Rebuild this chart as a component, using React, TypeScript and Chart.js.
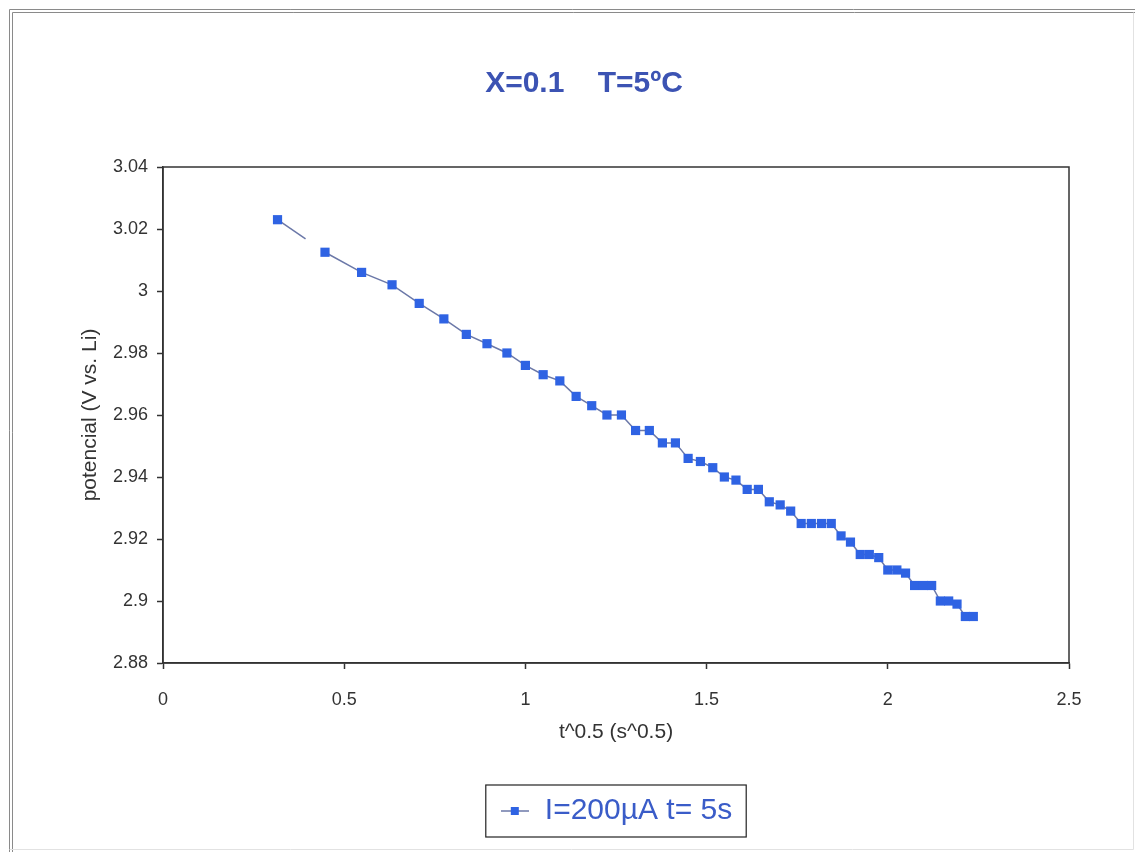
import React, { useEffect, useRef } from "react";
import { Chart, registerables } from "chart.js";

Chart.register(...registerables);

// t^0.5 values (s^0.5)
const timeRoot = [
  0.316, 0.447, 0.548, 0.632, 0.707, 0.775, 0.837, 0.894, 0.949, 1.0,
  1.049, 1.095, 1.14, 1.183, 1.225, 1.265, 1.304, 1.342, 1.378, 1.414,
  1.449, 1.483, 1.517, 1.549, 1.581, 1.612, 1.643, 1.673, 1.703, 1.732,
  1.761, 1.789, 1.817, 1.844, 1.871, 1.897, 1.924, 1.949, 1.975, 2.0,
  2.025, 2.049, 2.074, 2.098, 2.121, 2.145, 2.168, 2.191, 2.214, 2.236,
];

// potential (V vs. Li)
const potential = [
  3.023, 3.0125, 3.006, 3.002, 2.996, 2.991, 2.986, 2.983, 2.98, 2.976,
  2.973, 2.971, 2.966, 2.963, 2.96, 2.96, 2.955, 2.955, 2.951, 2.951,
  2.946, 2.945, 2.943, 2.94, 2.939, 2.936, 2.936, 2.932, 2.931, 2.929,
  2.925, 2.925, 2.925, 2.925, 2.921, 2.919, 2.915, 2.915, 2.914, 2.91,
  2.91, 2.909, 2.905, 2.905, 2.905, 2.9, 2.9, 2.899, 2.895, 2.895,
];

const xTickLabels = ["0", "0.5", "1", "1.5", "2", "2.5"];
const yTickLabels = ["2.88", "2.9", "2.92", "2.94", "2.96", "2.98", "3", "3.02", "3.04"];

const chartTitle = "X=0.1    T=5ºC";
const seriesLabel = "I=200µA t= 5s";
const xAxisTitle = "t^0.5 (s^0.5)";
const yAxisTitle = "potencial (V vs. Li)";

const LINE_COLOR = "#6b78a8";
const MARKER_COLOR = "#2f63e3";
const TEXT_COLOR = "#333333";
const TITLE_COLOR = "#3c53b3";
const LEGEND_TEXT = "#3a5cc8";
const FONT = "Arial, 'Liberation Sans', sans-serif";

export default function App() {
  const canvasRef = useRef<HTMLCanvasElement | null>(null);

  useEffect(() => {
    const canvas = canvasRef.current;
    if (!canvas) return;

    const icon = document.createElement("canvas");
    icon.width = 28;
    icon.height = 12;
    const ic = icon.getContext("2d");
    if (ic) {
      ic.strokeStyle = LINE_COLOR;
      ic.lineWidth = 1.5;
      ic.beginPath();
      ic.moveTo(0, 6);
      ic.lineTo(28, 6);
      ic.stroke();
      ic.fillStyle = MARKER_COLOR;
      ic.fillRect(10, 2, 8, 8);
    }

    const decor = {
      id: "decor",
      beforeDraw(chart: any) {
        const ctx = chart.ctx;
        ctx.save();
        ctx.fillStyle = "#ffffff";
        ctx.fillRect(0, 0, chart.width, chart.height);
        // outer frame
        ctx.strokeStyle = "#8a8a8a";
        ctx.lineWidth = 1;
        ctx.beginPath();
        ctx.moveTo(9.5, 852);
        ctx.lineTo(9.5, 9.5);
        ctx.lineTo(1135, 9.5);
        ctx.moveTo(12.5, 852);
        ctx.lineTo(12.5, 12.5);
        ctx.lineTo(1135, 12.5);
        ctx.stroke();
        ctx.strokeStyle = "#e2e2e2";
        ctx.beginPath();
        ctx.moveTo(9.5, 849.5);
        ctx.lineTo(1133.5, 849.5);
        ctx.lineTo(1133.5, 12.5);
        ctx.stroke();
        ctx.restore();
      },
      afterDraw(chart: any) {
        const ctx = chart.ctx;
        const a = chart.chartArea;
        ctx.save();
        // plot frame
        ctx.strokeStyle = "#333333";
        ctx.lineWidth = 1.5;
        ctx.strokeRect(a.left, a.top, a.right - a.left, a.bottom - a.top);
        // title
        ctx.fillStyle = TITLE_COLOR;
        ctx.font = "bold 30px " + FONT;
        ctx.textAlign = "center";
        ctx.textBaseline = "middle";
        ctx.fillText(chartTitle, 584, 84);
        // legend border
        const hb = chart.legend && chart.legend.legendHitBoxes && chart.legend.legendHitBoxes[0];
        if (hb) {
          const cy = hb.top + hb.height / 2;
          ctx.strokeStyle = "#222222";
          ctx.lineWidth = 1.2;
          ctx.strokeRect(hb.left - 14, cy - 26, hb.width + 28, 52);
        }
        ctx.restore();
      },
    };

    const chart = new Chart(canvas, {
      type: "line",
      data: {
        datasets: [
          {
            label: seriesLabel,
            data: timeRoot.map((x, i) => ({ x, y: potential[i] })),
            borderColor: LINE_COLOR,
            borderWidth: 1.5,
            backgroundColor: MARKER_COLOR,
            pointStyle: "rect",
            pointRadius: 6.5,
            pointBackgroundColor: MARKER_COLOR,
            pointBorderColor: MARKER_COLOR,
            pointBorderWidth: 0,
            tension: 0,
            segment: {
              borderDash: (ctx: any) => (ctx.p0DataIndex === 0 ? [34, 200] : undefined),
            },
          },
        ],
      },
      options: {
        animation: false,
        responsive: false,
        events: [],
        layout: { padding: { left: 74, right: 66, top: 167, bottom: 18 } },
        scales: {
          x: {
            type: "linear",
            min: 0,
            max: 2.5,
            afterFit: (s: any) => {
              s.height = 84;
            },
            ticks: {
              stepSize: 0.5,
              color: TEXT_COLOR,
              font: { size: 18, family: FONT },
              padding: 20,
              callback: (_v: any, i: number) => xTickLabels[i],
            },
            grid: {
              display: true,
              drawOnChartArea: false,
              drawTicks: true,
              tickLength: 6,
              tickColor: "#333333",
              tickWidth: 1.5,
            },
            border: { display: true, color: "#333333", width: 1.5 },
            title: {
              display: true,
              text: xAxisTitle,
              color: TEXT_COLOR,
              font: { size: 21, family: FONT },
              padding: { top: 0, bottom: 2 },
            },
          },
          y: {
            type: "linear",
            min: 2.88,
            max: 3.04,
            afterFit: (s: any) => {
              s.width = 89;
            },
            ticks: {
              stepSize: 0.02,
              color: TEXT_COLOR,
              font: { size: 18, family: FONT },
              padding: 9,
              callback: (_v: any, i: number) => yTickLabels[i],
            },
            grid: {
              display: true,
              drawOnChartArea: false,
              drawTicks: true,
              tickLength: 6,
              tickColor: "#333333",
              tickWidth: 1.5,
            },
            border: { display: true, color: "#333333", width: 1.5 },
            title: {
              display: true,
              text: yAxisTitle,
              color: TEXT_COLOR,
              font: { size: 21, family: FONT },
              padding: { top: 4, bottom: 0 },
            },
          },
        },
        plugins: {
          title: { display: false },
          tooltip: { enabled: false },
          legend: {
            display: true,
            position: "bottom",
            fullSize: false,
            labels: {
              usePointStyle: true,
              pointStyleWidth: 30,
              padding: 49,
              color: LEGEND_TEXT,
              font: { size: 30, family: FONT },
              generateLabels: (c: any) => {
                const items = (Chart as any).defaults.plugins.legend.labels.generateLabels(c);
                return items.map((it: any) => ({ ...it, pointStyle: icon, fontColor: LEGEND_TEXT }));
              },
            },
          },
        },
      },
      plugins: [decor],
    });

    return () => chart.destroy();
  }, []);

  return (
    <div style={{ position: "absolute", left: 0, top: 0, width: 1135, height: 854, background: "#fff" }}>
      <canvas ref={canvasRef} width={1135} height={854} />
    </div>
  );
}
